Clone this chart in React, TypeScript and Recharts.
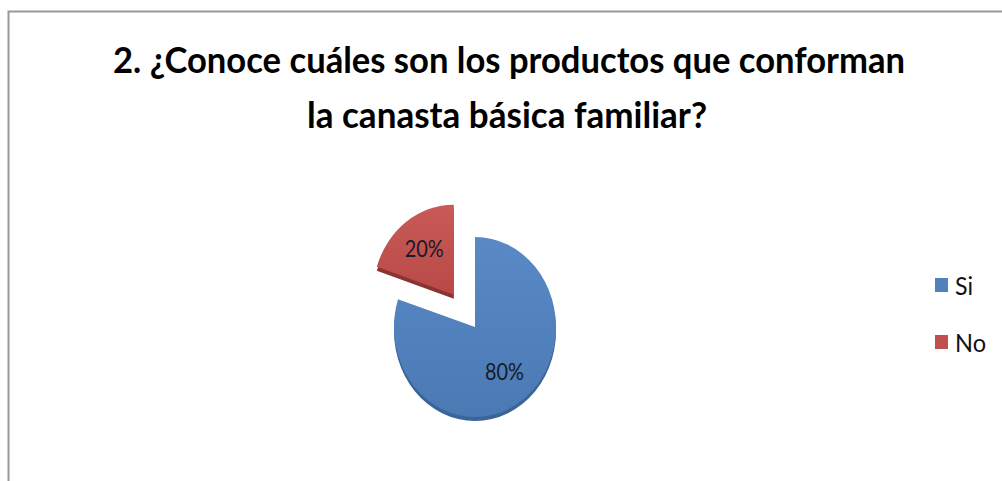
import { PieChart, Pie, Sector, Legend } from "recharts";

const categories = ["Si", "No"];
const values = [80, 20];
const colors = ["#4F81BD", "#C0504D"];
const shades = ["#3B6497", "#8A3431"];
const titleLines = [
  "2. ¿Conoce cuáles son los productos que conforman",
  "la canasta básica familiar?",
];

const data = categories.map((name, i) => ({ name, value: values[i] }));

const W = 1002;
const H = 481;
const CX = 475;
const CY = 327;
const R = 90;
const SX = 0.9; // pie looks squeezed sideways
const EXPLODE = 40;
const RADIAN = Math.PI / 180;

function explodeOffset(name: string, midAngle: number) {
  if (name !== "No") return { dx: 0, dy: 0 };
  return {
    dx: Math.cos(-midAngle * RADIAN) * EXPLODE * SX,
    dy: Math.sin(-midAngle * RADIAN) * EXPLODE,
  };
}

function SliceShape(props: any) {
  const { cx, cy, innerRadius, outerRadius, startAngle, endAngle, midAngle, payload } = props;
  const idx = categories.indexOf(payload.name);
  const { dx, dy } = explodeOffset(payload.name, midAngle);
  const t = `translate(${cx + dx} ${cy + dy}) scale(${SX} 1) translate(${-cx} ${-cy})`;
  return (
    <g transform={t}>
      <g transform="translate(0 4)">
        <Sector
          cx={cx}
          cy={cy}
          innerRadius={innerRadius}
          outerRadius={outerRadius}
          startAngle={startAngle}
          endAngle={endAngle}
          fill={shades[idx]}
        />
      </g>
      <Sector
        cx={cx}
        cy={cy}
        innerRadius={innerRadius}
        outerRadius={outerRadius}
        startAngle={startAngle}
        endAngle={endAngle}
        fill={`url(#grad${idx})`}
      />
    </g>
  );
}

function renderLabel(props: any) {
  const { cx, cy, midAngle, outerRadius, percent, payload } = props;
  const { dx, dy } = explodeOffset(payload.name, midAngle);
  const r = outerRadius * 0.62;
  const x = cx + Math.cos(-midAngle * RADIAN) * r * SX + dx;
  const y = cy + Math.sin(-midAngle * RADIAN) * r + dy;
  return (
    <text
      x={x}
      y={y + 8}
      textAnchor="middle"
      fontFamily="Lato"
      fontSize={23}
      textLength={39}
      lengthAdjust="spacingAndGlyphs"
      fill="#1a1a2a"
    >
      {`${Math.round(percent * 100)}%`}
    </text>
  );
}

function LegendContent() {
  return (
    <svg width={66} height={90} style={{ overflow: "visible" }}>
      {categories.map((c, i) => (
        <g key={c} transform={`translate(0 ${i * 57})`}>
          <rect x={0} y={0} width={13} height={14} fill={colors[i]} />
          <text
            x={20}
            y={17}
            fontFamily="Lato"
            fontSize={25}
            textLength={c === "Si" ? 18 : 31}
            lengthAdjust="spacingAndGlyphs"
            fill="#111"
          >
            {c}
          </text>
        </g>
      ))}
    </svg>
  );
}

export default function App() {
  return (
    <div style={{ position: "absolute", left: 0, top: 0, width: W, height: H, background: "#fff" }}>
      <PieChart width={W} height={H} margin={{ top: 0, right: 0, bottom: 0, left: 0 }}>
        <defs>
          <linearGradient id="grad0" x1="0" y1="0" x2="0" y2="1">
            <stop offset="0%" stopColor="#5A8AC6" />
            <stop offset="100%" stopColor="#4A79B4" />
          </linearGradient>
          <linearGradient id="grad1" x1="0" y1="0" x2="0" y2="1">
            <stop offset="0%" stopColor="#C85A57" />
            <stop offset="100%" stopColor="#B84946" />
          </linearGradient>
        </defs>
        <path d={`M 8.5 ${H} V 11.5 H ${W}`} fill="none" stroke="#999" strokeWidth={2} />
        <text
          x={509}
          y={73}
          textAnchor="middle"
          fontFamily="Lato"
          fontWeight="bold"
          fontSize={36}
          textLength={792}
          lengthAdjust="spacingAndGlyphs"
          fill="#000"
        >
          {titleLines[0]}
        </text>
        <text
          x={507}
          y={128}
          textAnchor="middle"
          fontFamily="Lato"
          fontWeight="bold"
          fontSize={36}
          textLength={400}
          lengthAdjust="spacingAndGlyphs"
          fill="#000"
        >
          {titleLines[1]}
        </text>
        <Pie
          data={data}
          dataKey="value"
          nameKey="name"
          cx={CX}
          cy={CY}
          outerRadius={R}
          startAngle={90}
          endAngle={-270}
          stroke="none"
          shape={SliceShape}
          label={renderLabel}
          labelLine={false}
          isAnimationActive={false}
        />
        <Legend
          content={LegendContent}
          wrapperStyle={{ position: "absolute", left: 935, top: 278, width: 66 }}
        />
      </PieChart>
    </div>
  );
}
